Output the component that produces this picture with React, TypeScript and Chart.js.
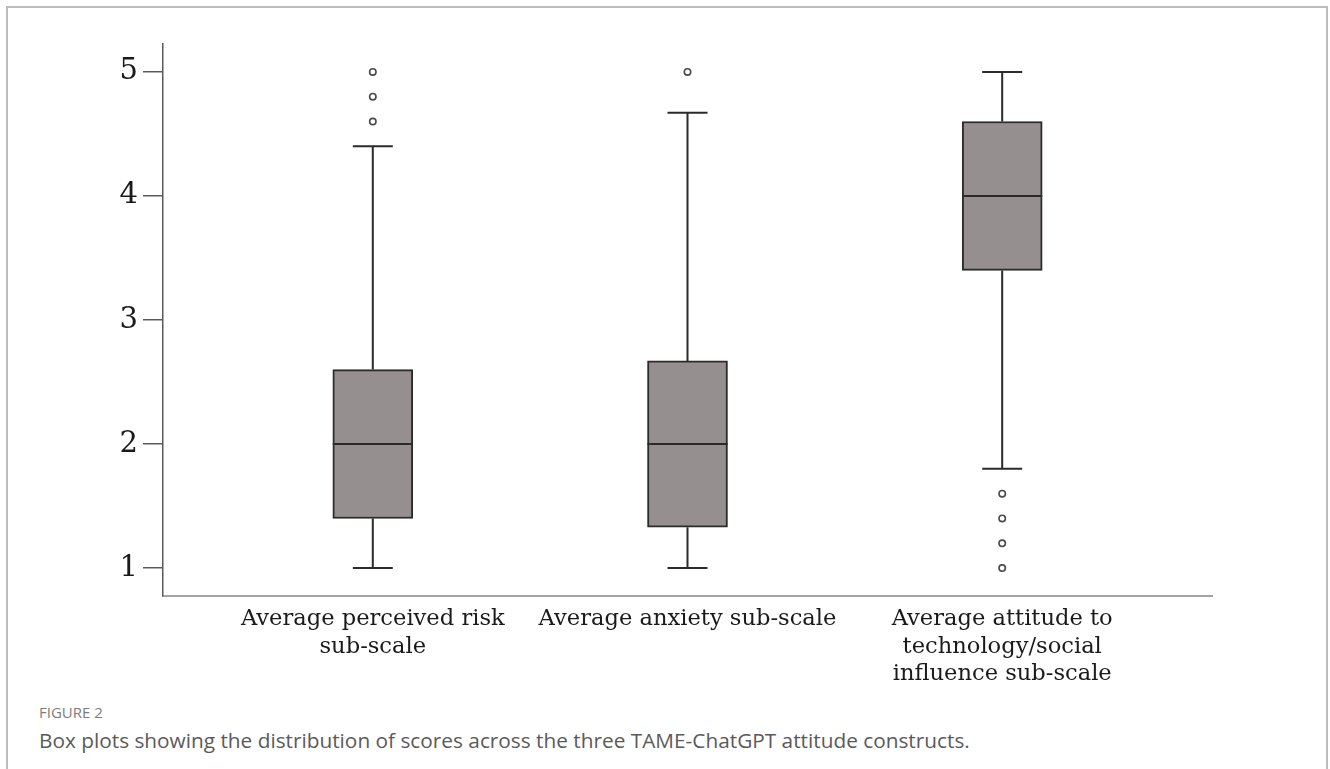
import React, { useEffect, useRef } from "react";
import { Chart, registerables } from "chart.js";

Chart.register(...registerables);

// ---- data ----
const categories: string[][] = [
  ["Average perceived risk", "sub-scale"],
  ["Average anxiety sub-scale"],
  ["Average attitude to", "technology/social", "influence sub-scale"],
];
const positions = [1, 2, 3];
const whiskerLow = [1.0, 1.0, 1.8];
const q1 = [1.4, 1.33, 3.4];
const median = [2.0, 2.0, 4.0];
const q3 = [2.6, 2.67, 4.6];
const whiskerHigh = [4.4, 4.67, 5.0];
const outliersRisk = [4.6, 4.8, 5.0];
const outliersAnxiety = [5.0];
const outliersAttitude = [1.0, 1.2, 1.4, 1.6];
const yTicks = [1, 2, 3, 4, 5];

const outlierGroups = [outliersRisk, outliersAnxiety, outliersAttitude];

const SERIF = "'DejaVu Serif', serif";
const LINE = "#2b2b2b";

const boxPlugin = {
  id: "boxWhiskers",
  beforeDatasetsDraw(chart: any) {
    const { ctx, scales } = chart;
    const xs = scales.x;
    const ys = scales.y;
    ctx.save();
    ctx.strokeStyle = LINE;
    ctx.lineWidth = 2;
    const cap = 20;
    positions.forEach((p, i) => {
      const x = xs.getPixelForValue(p);
      const yHi = ys.getPixelForValue(whiskerHigh[i]);
      const yQ3 = ys.getPixelForValue(q3[i]);
      const yQ1 = ys.getPixelForValue(q1[i]);
      const yLo = ys.getPixelForValue(whiskerLow[i]);
      ctx.beginPath();
      ctx.moveTo(x, yHi);
      ctx.lineTo(x, yQ3);
      ctx.moveTo(x - cap, yHi);
      ctx.lineTo(x + cap, yHi);
      ctx.moveTo(x, yQ1);
      ctx.lineTo(x, yLo);
      ctx.moveTo(x - cap, yLo);
      ctx.lineTo(x + cap, yLo);
      ctx.stroke();
    });
    ctx.restore();
  },
  afterDatasetsDraw(chart: any) {
    const { ctx, scales } = chart;
    const meta = chart.getDatasetMeta(0);
    ctx.save();
    ctx.strokeStyle = LINE;
    ctx.lineWidth = 2;
    positions.forEach((p, i) => {
      const bar = meta.data[i];
      const half = bar.width / 2;
      const x = scales.x.getPixelForValue(p);
      const y = scales.y.getPixelForValue(median[i]);
      ctx.beginPath();
      ctx.moveTo(x - half, y);
      ctx.lineTo(x + half, y);
      ctx.stroke();
    });
    ctx.restore();
  },
};

export default function App() {
  const ref = useRef<HTMLCanvasElement | null>(null);

  useEffect(() => {
    if (!ref.current) return;
    const outlierPoints: { x: number; y: number }[] = [];
    outlierGroups.forEach((g, i) => g.forEach((v) => outlierPoints.push({ x: positions[i], y: v })));

    const chart = new Chart(ref.current, {
      type: "bar",
      data: {
        datasets: [
          {
            type: "bar",
            data: positions.map((p, i) => ({ x: p, y: [q1[i], q3[i]] })) as any,
            backgroundColor: "#968f8f",
            borderColor: LINE,
            borderWidth: 2,
            borderSkipped: false,
            barThickness: 80,
          } as any,
          {
            type: "scatter",
            data: outlierPoints,
            pointRadius: 3.2,
            pointBorderWidth: 1.6,
            pointBorderColor: "#4a4a4a",
            pointBackgroundColor: "#ffffff",
          } as any,
        ],
      },
      options: {
        animation: false,
        responsive: false,
        events: [],
        layout: { padding: { top: 44, right: 118, left: 0, bottom: 0 } },
        plugins: { legend: { display: false }, tooltip: { enabled: false } },
        scales: {
          x: {
            type: "linear",
            offset: false,
            min: 1 / 3,
            max: 11 / 3,
            bounds: "data",
            afterFit: (s: any) => {
              s.height = 104;
            },
            afterBuildTicks: (s: any) => {
              s.ticks = positions.map((v) => ({ value: v }));
            },
            grid: { display: true, offset: false, drawOnChartArea: false, drawTicks: false, color: "rgba(0,0,0,0)" },
            border: { display: true, color: "#a3a3a3", width: 2 },
            ticks: {
              autoSkip: false,
              maxRotation: 0,
              minRotation: 0,
              padding: 10,
              color: "#1a1a1a",
              font: { family: SERIF, size: 22.6, lineHeight: 1.2 },
              callback: (v: any) => {
                const i = positions.indexOf(Number(v));
                return i >= 0 ? categories[i] : "";
              },
            },
          },
          y: {
            type: "linear",
            min: 0.775,
            max: 5.225,
            afterFit: (s: any) => {
              s.width = 163;
            },
            afterBuildTicks: (s: any) => {
              s.ticks = yTicks.map((v) => ({ value: v }));
            },
            grid: { display: true, drawOnChartArea: false, drawTicks: true, tickLength: 20, color: "#5a5a5a", lineWidth: 1.5 },
            border: { display: true, color: "#5a5a5a", width: 1.5 },
            ticks: {
              padding: 5,
              color: "#1a1a1a",
              font: { family: SERIF, size: 29 },
              callback: (v: any) => String(v),
            },
          },
        },
      },
      plugins: [boxPlugin],
    });
    return () => chart.destroy();
  }, []);

  return (
    <div style={{ position: "absolute", left: 0, top: 0, width: 1330, height: 769, background: "#fff", overflow: "hidden" }}>
      <div
        style={{
          position: "absolute",
          left: 6,
          top: 6,
          width: 1318,
          height: 800,
          borderLeft: "2px solid #bcbcbc",
          borderTop: "2px solid #bcbcbc",
          borderRight: "2px solid #bcbcbc",
        }}
      />
      <canvas ref={ref} width={1330} height={700} style={{ position: "absolute", left: 0, top: 0, width: 1330, height: 700 }} />
      <div
        style={{
          position: "absolute",
          left: 39,
          top: 702,
          fontFamily: "'Open Sans', sans-serif",
          fontSize: 15,
          color: "#7d7d7d",
          letterSpacing: 0,
        }}
      >
        FIGURE 2
      </div>
      <div
        style={{
          position: "absolute",
          left: 39,
          top: 726,
          fontFamily: "'Open Sans', sans-serif",
          fontSize: 20.8,
          color: "#5a5a5a",
          whiteSpace: "nowrap",
        }}
      >
        Box plots showing the distribution of scores across the three TAME-ChatGPT attitude constructs.
      </div>
    </div>
  );
}
